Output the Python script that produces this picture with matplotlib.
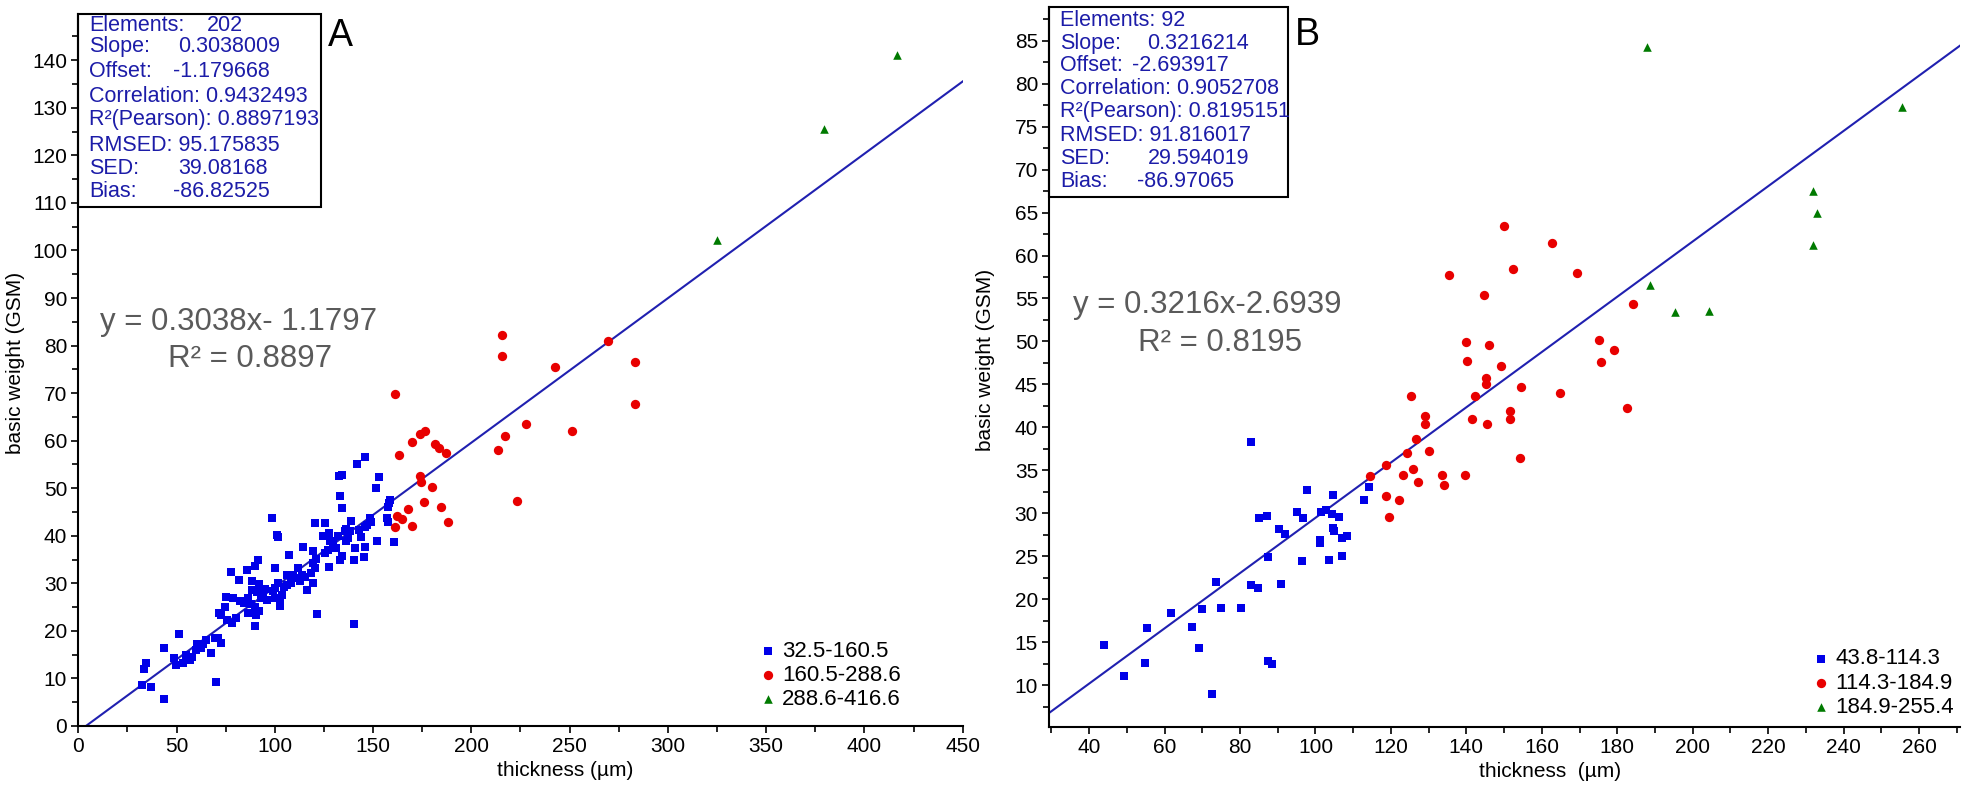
import matplotlib
matplotlib.use('Agg')
import matplotlib.pyplot as plt
from matplotlib.patches import Rectangle
from matplotlib.ticker import MultipleLocator
from matplotlib import font_manager
import numpy as np

plt.rcParams['font.family'] = ['Liberation Sans', 'DejaVu Sans']

# ---------------- panel A data ----------------
a_blue_x = [146.1, 141.8, 132.5, 134.4, 152.9, 151.6, 133.0, 134.4, 158.0, 157.4, 158.4, 156.9, 157.4, 160.4,
            152.2, 148.3, 146.7, 138.9, 138.3, 136.0, 140.3, 145.3, 145.7, 143.8, 140.9, 134.4, 133.1, 135.6,
            136.0, 132.1, 127.8, 125.3, 120.4, 124.3, 129.7, 127.2, 127.8, 119.4, 121.0, 119.4, 120.4, 119.4,
            116.5, 114.5, 107.3, 111.6, 109.3, 106.3, 112.6, 108.3, 106.3, 98.3, 100.9, 101.8, 99.9, 101.5,
            99.9, 103.4, 102.8, 102.4, 91.5, 89.8, 85.7, 77.9, 82.0, 88.2, 92.1, 88.2, 90.7, 94.0, 96.0, 95.0,
            93.1, 86.2, 84.3, 87.8, 90.1, 82.3, 78.8, 75.1, 74.5, 71.6, 72.6, 78.1, 75.5, 80.4, 86.2, 90.5,
            91.7, 90.1, 121.4, 140.5, 51.1, 43.7, 48.8, 49.8, 53.5, 55.0, 58.0, 60.5, 62.5, 64.8, 67.3, 69.3,
            71.2, 72.6, 63.2, 59.9, 57.0, 34.6, 33.2, 32.6, 37.1, 43.7, 70.2, 131.1, 128.2, 137.0, 142.8,
            145.7, 148.7, 125.3, 118.4, 115.5, 113.6, 110.6, 104.8, 98.9, 99.9]
a_blue_y = [56.6, 55.0, 52.6, 52.8, 52.3, 50.0, 48.4, 45.8, 46.9, 46.0, 47.6, 43.7, 43.0, 38.6,
            39.0, 43.7, 42.3, 43.2, 40.9, 38.8, 34.9, 35.6, 37.7, 39.7, 37.4, 35.8, 34.9, 40.9,
            41.4, 39.9, 40.6, 42.7, 42.7, 39.9, 38.2, 37.0, 33.5, 36.7, 35.1, 34.2, 33.2, 30.0,
            28.5, 37.7, 36.0, 33.3, 31.8, 31.8, 30.4, 30.0, 29.7, 43.7, 40.2, 39.7, 33.2, 30.0,
            29.0, 27.6, 26.4, 25.3, 34.9, 33.7, 32.8, 32.3, 30.6, 30.4, 29.9, 28.6, 28.1, 27.6, 26.4, 28.8,
            26.9, 26.9, 25.8, 25.7, 25.1, 26.2, 26.9, 27.2, 25.1, 23.8, 23.4, 21.6, 22.3, 22.7, 23.7, 23.4,
            24.1, 21.0, 23.6, 21.4, 19.3, 16.3, 14.2, 12.8, 13.2, 14.9, 14.6, 17.3, 16.3, 18.1, 15.4, 18.6,
            18.5, 17.5, 17.2, 16.0, 13.9, 13.3, 11.9, 8.6, 8.1, 5.7, 9.3, 37.4, 38.8, 39.5, 41.3,
            41.8, 43.0, 36.3, 32.1, 31.4, 31.8, 31.1, 29.3, 28.3, 26.9]
a_red_x = [161.3, 215.5, 215.5, 269.4, 242.6, 283.1, 283.1, 228.0, 217.3, 213.7, 251.2, 223.2, 176.3, 173.9,
           169.7, 181.3, 183.6, 187.1, 163.1, 173.9, 174.5, 180.2, 175.7, 184.8, 167.7, 162.0, 164.7, 161.3,
           169.7, 188.2]
a_red_y = [69.9, 82.2, 77.9, 81.0, 75.5, 76.5, 67.8, 63.6, 60.9, 58.1, 62.1, 47.4, 62.1, 61.3,
           59.8, 59.4, 58.5, 57.4, 57.0, 52.6, 51.4, 50.2, 47.0, 46.0, 45.6, 44.2, 43.6, 41.8,
           42.1, 42.9]
a_green_x = [325.0, 379.4, 416.6]
a_green_y = [102.2, 125.5, 141.2]
a_slope = 0.3038009
a_offset = -1.179668
a_legend = ['32.5-160.5', '160.5-288.6', '288.6-416.6']
a_stats = [('Elements:', '202'), ('Slope:', '0.3038009'), ('Offset:', '-1.179668'),
           ('Correlation: 0.9432493', ''), ('R\u00b2(Pearson): 0.8897193', ''), ('RMSED: 95.175835', ''),
           ('SED:', '39.08168'), ('Bias:', '-86.82525')]
a_eq = ['y = 0.3038x- 1.1797', 'R\u00b2 = 0.8897']

# ---------------- panel B data ----------------
b_blue_x = [114.2, 112.8, 104.7, 97.8, 101.4, 102.9, 104.5, 106.1, 95.2, 96.7, 84.9, 87.2, 90.2, 92.0,
            104.7, 104.9, 101.2, 101.2, 106.9, 108.3, 87.3, 96.5, 103.6, 107.0, 73.7, 82.8, 84.7, 90.9,
            70.0, 74.9, 80.2, 61.7, 55.3, 67.2, 44.0, 69.2, 54.7, 49.1, 87.5, 88.5, 72.5, 82.8]
b_blue_y = [33.1, 31.5, 32.1, 32.7, 30.2, 30.4, 29.9, 29.6, 30.1, 29.4, 29.5, 29.7, 28.2, 27.6,
            28.3, 27.9, 26.9, 26.5, 27.1, 27.3, 24.9, 24.4, 24.5, 25.0, 22.0, 21.7, 21.3, 21.8,
            18.8, 19.0, 19.0, 18.4, 16.6, 16.7, 14.7, 14.3, 12.6, 11.0, 12.8, 12.4, 9.0, 38.3]
b_red_x = [150.0, 162.7, 152.4, 169.3, 135.3, 144.7, 184.1, 175.2, 179.1, 175.8, 139.8, 145.9, 140.2, 149.1,
           145.1, 145.3, 154.6, 142.4, 164.8, 125.2, 182.6, 129.0, 129.0, 141.5, 145.6, 151.7, 151.5, 126.6,
           124.3, 130.2, 154.2, 118.7, 125.8, 123.1, 133.5, 139.6, 127.2, 134.2, 114.5, 118.6, 122.2, 119.4]
b_red_y = [63.4, 61.5, 58.4, 58.0, 57.7, 55.4, 54.4, 50.2, 49.0, 47.6, 49.9, 49.6, 47.7, 47.1,
           45.7, 45.0, 44.7, 43.6, 44.0, 43.7, 42.2, 41.3, 40.4, 41.0, 40.4, 41.9, 41.0, 38.6,
           37.0, 37.2, 36.4, 35.6, 35.1, 34.4, 34.4, 34.4, 33.6, 33.3, 34.3, 32.0, 31.5, 29.6]
b_green_x = [188.6, 195.3, 204.4, 188.0, 232.0, 233.0, 232.0, 255.4]
b_green_y = [56.6, 53.4, 53.5, 84.3, 67.5, 65.0, 61.2, 77.3]
b_slope = 0.3216214
b_offset = -2.693917
b_legend = ['43.8-114.3', '114.3-184.9', '184.9-255.4']
b_stats = [('Elements: 92', ''), ('Slope:', '0.3216214'), ('Offset:', '-2.693917'),
           ('Correlation: 0.9052708', ''), ('R\u00b2(Pearson): 0.8195151', ''), ('RMSED: 91.816017', ''),
           ('SED:', '29.594019'), ('Bias:', '-86.97065')]
b_eq = ['y = 0.3216x-2.6939', 'R\u00b2 = 0.8195']

BLUE = '#0000e8'
RED = '#e80000'
GREEN = '#007a00'
LINE = '#2020b0'
STAT = '#1c1ca8'
GRAY = '#5a5a5a'

names = set(f.name for f in font_manager.fontManager.ttflist)
if 'Liberation Sans Narrow' in names:
    LAB_FONT, LAB_SIZE = 'Liberation Sans Narrow', 17
else:
    LAB_FONT, LAB_SIZE = 'Liberation Sans', 15


def panel(ax, blue, red, green, slope, offset, xlim, ylim, legend, stats, value_x, line_y, box,
          letter, eq, eq_pos, leg_pos, xlabel):
    ax.set_xlim(*xlim)
    ax.set_ylim(*ylim)
    xs = np.array(xlim)
    ax.plot(xs, slope * xs + offset, color=LINE, lw=1.5, zorder=2)
    h1 = ax.scatter(blue[0], blue[1], marker='s', s=40, color=BLUE, lw=0, zorder=3)
    h2 = ax.scatter(red[0], red[1], marker='o', s=45, color=RED, lw=0, zorder=3)
    h3 = ax.scatter(green[0], green[1], marker='^', s=38, color=GREEN, lw=0, zorder=3)

    for s in ['top', 'right']:
        ax.spines[s].set_visible(False)
    for s in ['left', 'bottom']:
        ax.spines[s].set_linewidth(1.5)
    ax.tick_params(which='both', direction='out', width=1.2, labelsize=15, pad=3)
    ax.tick_params(which='major', length=5)
    ax.tick_params(which='minor', length=4)

    ax.set_xlabel(xlabel, family=[LAB_FONT, 'DejaVu Sans'], fontsize=LAB_SIZE, va='center')
    ax.set_ylabel('basic weight (GSM)', family=[LAB_FONT, 'DejaVu Sans'], fontsize=LAB_SIZE, va='center')
    ax.xaxis.set_label_coords(0.55, -0.062)
    ax.yaxis.set_label_coords(-0.0705, 0.51)

    ax.legend([h1, h2, h3], legend, loc='lower left', bbox_to_anchor=leg_pos, frameon=False, fontsize=16,
              handlelength=0.6, handletextpad=0.35, labelspacing=0.15, borderpad=0, borderaxespad=0,
              scatterpoints=1)

    # stats box
    ax.add_patch(Rectangle((0, box[1]), box[0], 1 - box[1], transform=ax.transAxes, fill=False,
                           ec='black', lw=1.5, clip_on=False, zorder=5))
    for (lab, val), vx, ly in zip(stats, value_x, line_y):
        ax.text(0.012, ly, lab, transform=ax.transAxes, color=STAT, fontsize=15.5, va='center', zorder=6)
        if val:
            ax.text(vx, ly, val, transform=ax.transAxes, color=STAT, fontsize=15.5, va='center', zorder=6)
    ax.text(letter[0], letter[1], letter[2], transform=ax.transAxes, fontsize=27, va='center', ha='left')

    ax.text(eq_pos[0], eq_pos[1], eq[0], transform=ax.transAxes, color=GRAY, fontsize=22.5,
            ha='center', va='center')
    ax.text(eq_pos[2], eq_pos[3], eq[1], transform=ax.transAxes, color=GRAY, fontsize=22.5,
            ha='center', va='center')


fig = plt.figure(figsize=(19.63, 7.88), dpi=100)
axA = fig.add_axes([0.0399, 0.0787, 0.4505, 0.904])
axB = fig.add_axes([0.5345, 0.0778, 0.4640, 0.913])

axA.xaxis.set_major_locator(MultipleLocator(50))
axA.xaxis.set_minor_locator(MultipleLocator(25))
axA.yaxis.set_major_locator(MultipleLocator(10))
axA.yaxis.set_minor_locator(MultipleLocator(5))
axB.xaxis.set_major_locator(MultipleLocator(20))
axB.xaxis.set_minor_locator(MultipleLocator(10))
axB.yaxis.set_major_locator(MultipleLocator(5))
axB.yaxis.set_minor_locator(MultipleLocator(2.5))

a_line_y = [(726 - v) / 712.5 for v in [25, 46, 71.7, 96, 119, 145, 168, 191.7]]
b_line_y = [(726.7 - v) / 719.7 for v in [20.7, 43.3, 65, 88.3, 111.7, 135, 158.3, 181.7]]

panel(axA, (a_blue_x, a_blue_y), (a_red_x, a_red_y), (a_green_x, a_green_y), a_slope, a_offset,
      (0, 450), (0, 149.8), a_legend, a_stats,
      [0.1452, 0.1131, 0.1074, 0, 0, 0, 0.1131, 0.1074], a_line_y, (0.274, 0.729),
      (0.282, 0.968, 'A'), a_eq, (0.181, 0.5675, 0.194, 0.5147), (0.772, 0.022), 'thickness (\u00b5m)')

panel(axB, (b_blue_x, b_blue_y), (b_red_x, b_red_y), (b_green_x, b_green_y), b_slope, b_offset,
      (29.4, 270.9), (5.15, 88.9), b_legend, b_stats,
      [0, 0.108, 0.0905, 0, 0, 0, 0.108, 0.096], b_line_y, (0.262, 0.736),
      (0.27, 0.961, 'B'), b_eq, (0.1735, 0.586, 0.187, 0.5327), (0.84, 0.012), 'thickness  (\u00b5m)')

fig.savefig('out.png', dpi=100)
